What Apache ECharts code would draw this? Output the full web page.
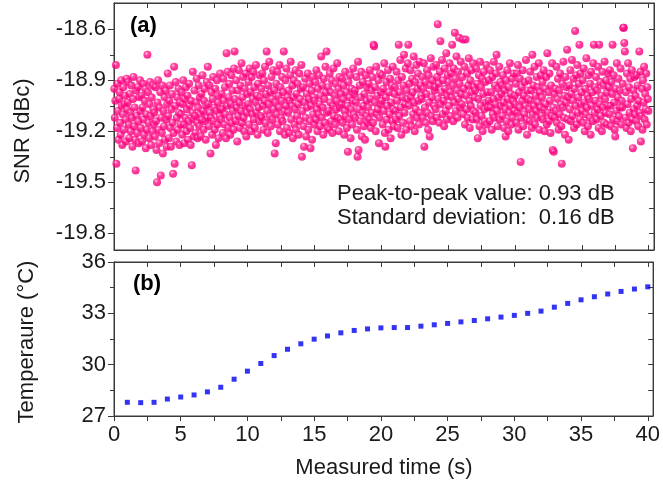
<!DOCTYPE html>
<html>
<head>
<meta charset="utf-8">
<script src="https://cdn.jsdelivr.net/npm/echarts@6/dist/echarts.min.js"></script>
<style>html,body{margin:0;padding:0;background:#fff}#c{width:663px;height:488px}</style>
</head>
<body>
<div id="c"></div>
<script>
// ---- data ----
// SNR samples (dBc), one row per second of measurement, 25 samples per second
const snrValues = [
-18.95,-19.12,-19.02,-18.81,-19.39,-19.18,-18.92,-19.08,-19.25,-19.01,-18.97,-19.15,-19.22,-18.90,-19.05,-19.28,-19.10,-18.94,-19.19,-19.04,-18.99,-19.13,-19.26,-18.89,-19.07,
-19.03,-18.91,-19.16,-19.24,-18.98,-19.09,-19.20,-18.93,-19.12,-19.29,-19.01,-18.88,-19.17,-19.06,-19.25,-19.43,-18.96,-19.11,-19.21,-18.94,-19.14,-19.27,-19.00,-18.90,-19.08,
-19.18,-18.99,-19.26,-19.06,-18.92,-19.13,-19.22,-19.02,-18.95,-19.30,-19.10,-19.19,-18.75,-18.97,-19.15,-19.24,-19.04,-18.91,-19.11,-19.28,-19.00,-19.20,-18.93,-19.07,-19.16,
-19.09,-19.23,-18.94,-19.14,-19.31,-19.50,-19.03,-18.90,-19.19,-19.27,-19.06,-18.97,-19.46,-19.12,-19.21,-18.93,-19.33,-19.08,-19.17,-19.00,-19.25,-18.96,-19.13,-19.29,-19.04,
-18.86,-19.11,-19.24,-19.02,-18.93,-19.18,-19.29,-19.07,-18.98,-19.15,-19.45,-19.21,-18.82,-19.39,-19.05,-18.91,-19.26,-19.12,-19.00,-19.19,-18.95,-19.09,-19.28,-19.03,-19.16,
-19.10,-18.97,-19.22,-19.04,-18.90,-19.16,-19.27,-19.01,-19.12,-18.94,-19.20,-19.07,-18.99,-19.25,-19.14,-18.92,-19.05,-19.18,-19.28,-19.02,-19.40,-19.09,-18.85,-19.13,-19.23,
-18.96,-19.11,-19.21,-19.03,-18.89,-19.15,-19.24,-19.06,-18.93,-19.17,-19.00,-19.10,-19.23,-18.98,-19.13,-18.87,-19.08,-19.19,-19.02,-18.95,-19.14,-19.25,-19.05,-18.91,-19.12,
-18.82,-19.04,-19.17,-18.93,-19.09,-19.33,-19.12,-18.97,-19.22,-19.01,-18.88,-19.14,-19.06,-19.19,-18.95,-19.28,-19.08,-18.90,-19.16,-19.03,-19.24,-18.99,-19.11,-18.86,-19.07,
-19.13,-18.98,-19.07,-19.21,-18.89,-19.02,-19.16,-18.94,-19.10,-19.24,-18.74,-19.05,-18.85,-19.18,-19.00,-18.92,-19.12,-19.22,-19.04,-18.87,-19.15,-18.96,-19.08,-19.19,-18.83,
-18.73,-19.01,-19.14,-18.90,-19.06,-19.26,-18.96,-19.11,-18.84,-19.03,-19.18,-18.93,-19.08,-18.80,-19.15,-19.00,-18.88,-19.12,-19.20,-18.95,-19.05,-18.86,-19.23,-19.09,-18.98,
-19.04,-18.91,-19.16,-18.83,-19.07,-18.97,-19.20,-18.88,-19.10,-19.01,-18.85,-19.13,-18.94,-19.18,-19.03,-18.81,-19.09,-18.99,-19.22,-18.92,-19.06,-19.14,-18.87,-19.00,-19.11,
-18.95,-19.12,-18.86,-19.05,-19.19,-18.90,-19.02,-18.82,-19.15,-18.98,-18.73,-19.08,-19.21,-18.93,-19.04,-18.79,-19.11,-18.97,-19.17,-18.88,-19.01,-19.13,-18.84,-19.07,-18.96,
-19.33,-19.03,-19.27,-18.92,-19.10,-18.85,-19.16,-18.99,-19.06,-18.81,-19.20,-18.94,-19.12,-19.02,-18.88,-19.14,-18.97,-18.73,-19.08,-19.22,-18.90,-19.05,-18.83,-19.18,-19.00,
-19.09,-18.96,-19.21,-19.02,-18.87,-18.79,-19.13,-19.05,-18.93,-19.24,-19.00,-18.90,-19.16,-19.07,-18.84,-19.19,-18.98,-19.11,-18.92,-19.04,-19.22,-18.86,-19.14,-19.01,-18.95,
-18.81,-19.35,-19.08,-18.94,-19.17,-19.29,-19.03,-18.89,-19.12,-19.23,-18.98,-19.06,-18.86,-19.19,-19.01,-18.92,-19.14,-19.30,-19.05,-18.96,-19.25,-18.88,-19.10,-19.00,-19.16,
-19.02,-18.91,-19.13,-18.84,-19.07,-19.20,-18.95,-19.10,-18.87,-19.04,-19.17,-18.99,-18.76,-19.12,-18.93,-19.06,-19.22,-18.89,-19.01,-19.15,-18.82,-18.97,-18.73,-19.09,-19.18,
-18.94,-19.08,-19.19,-18.86,-19.03,-18.97,-19.14,-18.90,-19.21,-19.05,-18.83,-19.11,-18.99,-19.16,-18.92,-19.07,-19.02,-18.80,-19.12,-18.95,-19.20,-18.88,-19.06,-19.13,-18.98,
-19.04,-18.89,-19.15,-19.01,-18.93,-19.22,-19.08,-18.85,-19.11,-18.97,-19.18,-19.05,-19.32,-18.91,-19.13,-19.00,-18.87,-19.24,-19.07,-18.95,-19.16,-19.02,-18.83,-19.10,-18.98,
-18.96,-19.12,-19.03,-18.88,-19.19,-19.35,-18.79,-19.31,-19.07,-18.93,-19.14,-19.00,-18.85,-19.23,-19.09,-18.91,-19.05,-19.17,-18.98,-19.25,-18.87,-19.11,-19.02,-18.94,-19.15,
-19.06,-18.92,-19.13,-18.84,-19.01,-19.18,-18.96,-19.09,-18.88,-19.15,-18.69,-18.70,-19.03,-18.94,-19.20,-18.82,-19.10,-18.99,-19.07,-18.90,-19.27,-19.12,-18.86,-19.04,-18.97,
-19.02,-18.87,-19.16,-18.95,-19.08,-18.80,-19.21,-19.29,-19.00,-18.91,-19.13,-19.05,-18.84,-19.19,-18.97,-19.10,-18.89,-19.24,-19.03,-18.93,-19.14,-18.82,-19.07,-19.17,-18.98,
-18.94,-19.08,-19.13,-18.85,-19.02,-19.18,-18.90,-18.69,-19.11,-18.97,-18.78,-19.06,-19.22,-18.88,-19.00,-19.15,-18.93,-18.75,-19.09,-19.04,-18.83,-19.19,-18.96,-19.01,-18.80,
-18.69,-19.05,-18.92,-19.14,-18.84,-19.00,-19.17,-18.89,-18.97,-19.10,-18.76,-19.03,-19.20,-18.91,-19.07,-18.81,-19.12,-18.95,-18.86,-19.02,-19.16,-18.79,-19.09,-18.93,-18.99,
-19.01,-18.88,-19.12,-18.95,-18.80,-19.29,-19.06,-18.91,-19.15,-18.98,-18.84,-19.09,-19.19,-18.87,-19.03,-19.23,-18.93,-18.77,-19.11,-19.00,-18.90,-19.14,-18.82,-19.05,-18.96,
-18.94,-19.07,-18.81,-19.12,-18.88,-18.57,-19.01,-18.92,-19.15,-18.85,-18.67,-19.04,-18.97,-18.78,-19.10,-18.90,-19.02,-19.17,-18.83,-18.95,-19.08,-18.74,-19.13,-18.99,-18.87,
-18.91,-19.05,-18.80,-18.97,-19.11,-18.86,-19.00,-18.69,-18.93,-19.14,-18.83,-19.03,-18.62,-18.89,-19.08,-18.76,-18.96,-19.12,-18.85,-19.01,-18.65,-18.92,-19.06,-18.79,-18.98,
-19.04,-18.88,-18.66,-19.10,-18.95,-18.82,-19.16,-18.66,-18.99,-19.07,-18.86,-19.12,-18.93,-18.77,-19.02,-19.18,-18.90,-19.05,-18.84,-18.97,-19.13,-18.80,-19.08,-18.94,-19.00,
-18.96,-19.09,-18.83,-19.13,-18.92,-19.24,-19.01,-18.87,-19.17,-18.79,-19.05,-18.94,-19.11,-18.89,-19.20,-18.98,-18.85,-19.07,-19.14,-18.91,-19.03,-18.81,-19.16,-18.97,-19.06,
-19.02,-18.90,-19.14,-18.84,-19.06,-18.97,-19.19,-18.88,-19.10,-19.01,-18.79,-19.12,-18.93,-19.04,-18.86,-18.75,-19.08,-19.17,-18.95,-19.00,-18.82,-19.13,-18.91,-19.05,-18.98,
-18.93,-19.11,-18.87,-19.03,-19.18,-18.96,-19.07,-19.23,-18.90,-19.14,-18.84,-19.01,-19.20,-18.94,-19.09,-18.80,-19.05,-18.98,-19.16,-18.89,-19.12,-19.02,-18.86,-19.08,-18.99,
-19.04,-18.92,-19.15,-18.86,-19.09,-18.81,-19.19,-18.97,-19.06,-18.89,-19.38,-19.12,-18.94,-19.02,-18.84,-19.17,-18.99,-19.10,-18.91,-19.05,-18.78,-19.13,-19.22,-18.96,-19.01,
-18.90,-19.07,-19.14,-18.85,-19.02,-18.96,-19.18,-18.75,-19.10,-18.93,-19.05,-18.82,-19.16,-18.99,-19.08,-18.88,-19.12,-18.94,-19.03,-18.80,-19.19,-18.97,-19.06,-18.87,-19.11,
-19.00,-18.91,-19.13,-18.84,-19.07,-19.20,-18.95,-19.04,-18.88,-19.16,-18.74,-19.09,-18.97,-19.14,-18.86,-19.02,-19.21,-18.93,-19.11,-18.80,-19.31,-19.06,-19.32,-18.98,-19.12,
-18.95,-19.08,-18.82,-19.15,-19.01,-18.89,-19.19,-18.96,-19.10,-18.86,-19.04,-19.17,-19.39,-18.92,-19.06,-18.79,-19.12,-18.99,-19.22,-18.88,-19.03,-18.94,-18.72,-19.13,-19.00,
-19.25,-18.93,-19.07,-18.84,-19.14,-18.98,-18.78,-19.11,-19.02,-18.89,-19.18,-18.95,-18.61,-19.05,-18.87,-19.16,-18.81,-19.09,-19.00,-18.92,-18.69,-19.13,-18.86,-19.04,-18.97,
-19.08,-18.90,-19.15,-18.83,-19.03,-19.20,-18.95,-19.10,-18.77,-19.06,-18.99,-19.17,-18.87,-19.01,-19.12,-18.92,-19.22,-18.85,-19.05,-18.97,-19.14,-18.80,-18.69,-19.09,-18.94,
-19.02,-18.88,-19.13,-18.96,-19.07,-18.82,-19.18,-18.69,-19.04,-18.91,-19.11,-18.99,-19.20,-18.85,-19.06,-18.93,-19.15,-18.79,-19.01,-19.09,-18.90,-19.16,-18.97,-19.05,-18.86,
-18.94,-19.10,-18.84,-19.05,-19.17,-18.91,-18.98,-18.69,-19.13,-18.87,-19.03,-19.19,-19.23,-18.95,-19.08,-18.80,-19.14,-19.00,-18.89,-19.11,-18.96,-19.06,-18.83,-19.16,-19.02,
-19.06,-18.92,-18.59,-18.59,-18.68,-18.73,-19.12,-18.97,-19.18,-18.86,-19.04,-18.80,-19.15,-18.94,-19.09,-18.89,-19.20,-19.01,-18.84,-19.13,-19.30,-18.96,-19.07,-18.88,-19.10,
-18.99,-19.14,-18.87,-19.05,-18.93,-19.17,-19.02,-18.73,-19.09,-18.85,-19.26,-19.11,-18.95,-19.19,-18.90,-19.03,-18.82,-19.13,-18.98,-19.07,-18.86,-19.16,-18.94,-19.01,-19.08
];
const snrSampleStart = 0.02;   // s, time of first sample
const snrSampleStep = 0.04;    // s, sampling interval

const tempTime = [1,2,3,4,5,6,7,8,9,10,11,12,13,14,15,16,17,18,19,20,21,22,23,24,25,26,27,28,29,30,31,32,33,34,35,36,37,38,39,40];
const tempValues = [27.80,27.78,27.80,27.99,28.11,28.23,28.41,28.68,29.15,29.62,30.07,30.53,30.90,31.22,31.49,31.68,31.86,32.00,32.09,32.15,32.17,32.17,32.25,32.33,32.41,32.50,32.58,32.68,32.78,32.88,33.00,33.13,33.36,33.58,33.79,33.97,34.13,34.28,34.42,34.55];

const xMajorTicks = [0,5,10,15,20,25,30,35,40];
const xAllTicks = [0,2.5,5,7.5,10,12.5,15,17.5,20,22.5,25,27.5,30,32.5,35,37.5,40];
const snrMajorTicks = [-19.8,-19.5,-19.2,-18.9,-18.6];
const snrMinorTicks = [-19.65,-19.35,-19.05,-18.75];
const tempMajorTicks = [27,30,33,36];
const tempMinorTicks = [28.5,31.5,34.5];

// ---- chart ----
const FONT = '"Liberation Sans", Arial, sans-serif';
const TXT = '#1a1a1a';
const LINE = '#3a3a3a';
const snrData = snrValues.map((v, i) => [snrSampleStart + i * snrSampleStep, v]);
const tempData = tempTime.map((t, i) => [t, tempValues[i]]);

const chart = echarts.init(document.getElementById('c'), null, {renderer: 'canvas'});

function xAx(grid, pos, inside, labels, tickLen) {
  return {
    type: 'value', gridIndex: grid, position: pos, min: 0, max: 40.4,
    axisLine: {show: true, onZero: false, lineStyle: {color: LINE, width: 1}},
    axisTick: {show: true, inside: inside, length: tickLen, customValues: xAllTicks, lineStyle: {color: LINE}},
    axisLabel: labels ? {show: true, customValues: xMajorTicks, fontFamily: FONT, fontSize: 22, color: TXT, margin: 8} : {show: false},
    splitLine: {show: false}
  };
}
function yAx(grid, pos, min, max, ticks, inside, len, labels, margin, dec) {
  return {
    type: 'value', gridIndex: grid, position: pos, min: min, max: max,
    axisLine: {show: true, onZero: false, lineStyle: {color: LINE, width: 1}},
    axisTick: {show: true, inside: inside, length: len, customValues: ticks, lineStyle: {color: LINE}},
    axisLabel: labels ? {show: true, customValues: labels, fontFamily: FONT, fontSize: 22, color: TXT, margin: margin,
      formatter: v => Number(v).toFixed(dec)} : {show: false},
    splitLine: {show: false}
  };
}

const ballColor = new echarts.graphic.RadialGradient(0.38, 0.32, 0.7, [
  {offset: 0, color: '#ffd6ea'},
  {offset: 0.18, color: '#ff5aa8'},
  {offset: 0.45, color: '#ff0a84'},
  {offset: 1, color: '#f2007a'}
]);

chart.setOption({
  animation: false,
  backgroundColor: '#fff',
  grid: [
    {left: 114, top: 3, width: 540, height: 247, show: true, borderColor: LINE, borderWidth: 1},
    {left: 114, top: 262, width: 540, height: 154, show: true, borderColor: LINE, borderWidth: 1}
  ],
  xAxis: [
    xAx(0, 'bottom', true, false, 5),
    xAx(0, 'top', true, false, 5),
    xAx(1, 'bottom', false, true, 5),
    xAx(1, 'top', true, false, 5)
  ],
  yAxis: [
    yAx(0, 'left', -19.898, -18.445, snrMajorTicks, false, 6, snrMajorTicks, 8, 1),
    yAx(0, 'left', -19.898, -18.445, snrMinorTicks, false, 4, null),
    yAx(0, 'right', -19.898, -18.445, snrMajorTicks.concat(snrMinorTicks), true, 5, null),
    yAx(1, 'left', 27, 36, tempMajorTicks, false, 6, tempMajorTicks, 8, 0),
    yAx(1, 'left', 27, 36, tempMinorTicks, false, 4, null),
    yAx(1, 'right', 27, 36, tempMajorTicks.concat(tempMinorTicks), true, 5, null)
  ],
  series: [
    {type: 'scatter', xAxisIndex: 0, yAxisIndex: 0, data: snrData, symbol: 'circle', symbolSize: 8,
      itemStyle: {color: ballColor}, silent: true, large: false},
    {type: 'scatter', xAxisIndex: 2, yAxisIndex: 3, data: tempData, symbol: 'rect', symbolSize: 5,
      itemStyle: {color: '#0000f0'}, silent: true}
  ],
  graphic: [
    {type: 'text', x: 23, y: 131, rotation: Math.PI / 2,
      style: {text: 'SNR (dBc)', font: '22px ' + FONT, fill: TXT, align: 'center', verticalAlign: 'middle'}},
    {type: 'text', x: 27, y: 342, rotation: Math.PI / 2,
      style: {text: 'Temperaure (\u00B0C)', font: '22px ' + FONT, fill: TXT, align: 'center', verticalAlign: 'middle'}},
    {type: 'text', x: 384, y: 468,
      style: {text: 'Measured time (s)', font: '22px ' + FONT, fill: TXT, align: 'center', verticalAlign: 'middle'}},
    {type: 'text', x: 130, y: 26,
      style: {text: '(a)', font: 'bold 22px ' + FONT, fill: '#000', align: 'left', verticalAlign: 'middle'}},
    {type: 'text', x: 133, y: 284,
      style: {text: '(b)', font: 'bold 22px ' + FONT, fill: '#000', align: 'left', verticalAlign: 'middle'}},
    {type: 'text', x: 337, y: 194,
      style: {text: 'Peak-to-peak value: 0.93 dB', font: '22px ' + FONT, fill: TXT, align: 'left', verticalAlign: 'middle'}},
    {type: 'text', x: 337, y: 218,
      style: {text: 'Standard deviation:  0.16 dB', font: '22px ' + FONT, fill: TXT, align: 'left', verticalAlign: 'middle'}}
  ]
});
</script>
</body>
</html>
